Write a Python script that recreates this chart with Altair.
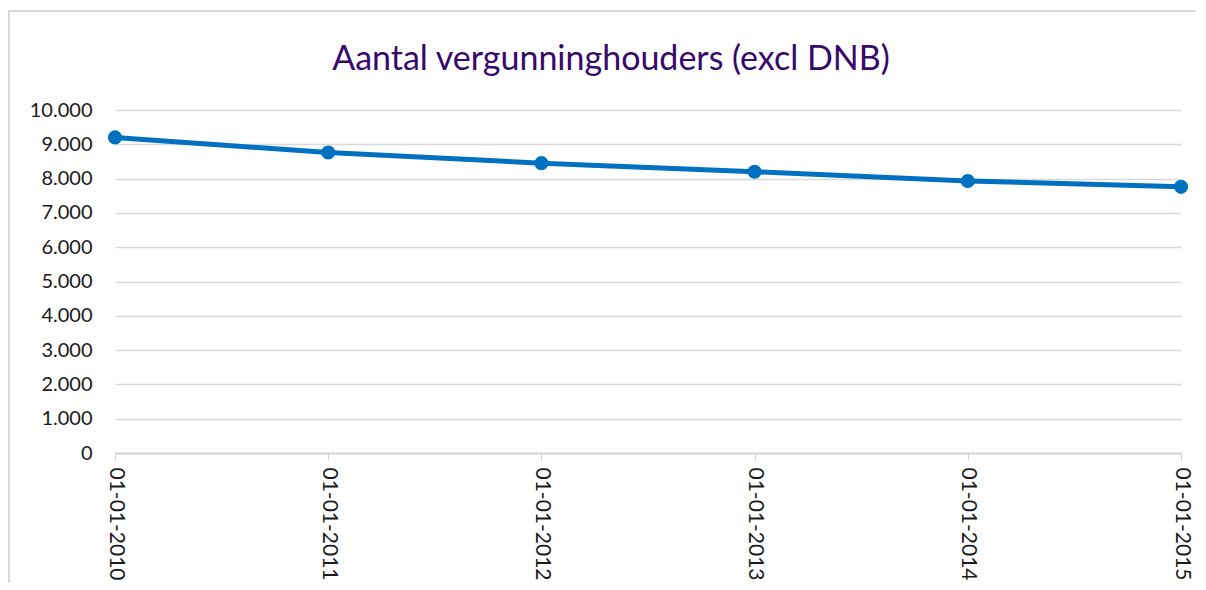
import altair as alt
import pandas as pd

dates = ["01-01-2010", "01-01-2011", "01-01-2012", "01-01-2013", "01-01-2014", "01-01-2015"]
values = [9200, 8760, 8450, 8200, 7930, 7760]

df = pd.DataFrame({"datum": dates, "aantal": values})

FONT = "Lato"

x_enc = alt.X(
    "datum:O",
    sort=dates,
    scale=alt.Scale(type="point", padding=0),
    axis=alt.Axis(
        title=None,
        labelAngle=90,
        labelAlign="left",
        labelBaseline="middle",
        labelFontSize=21,
        labelFont=FONT,
        labelColor="#1a1a1a",
        labelPadding=7,
        tickColor="#d0d0d0",
        tickSize=7,
        domainColor="#d0d0d0",
        domainWidth=1.5,
        grid=False,
    ),
)
y_enc = alt.Y(
    "aantal:Q",
    scale=alt.Scale(domain=[0, 10000]),
    axis=alt.Axis(
        title=None,
        values=list(range(0, 10001, 1000)),
        labelExpr="replace(format(datum.value, ','), ',', '.')",
        labelFontSize=20,
        labelFont=FONT,
        labelColor="#1a1a1a",
        labelPadding=23,
        ticks=False,
        domain=False,
        gridColor="#d9d9d9",
        gridWidth=1.5,
    ),
)

border = alt.Chart(df).mark_rect(
    fill=None, stroke="#d9d9d9", strokeWidth=1.5
).encode(
    x=alt.value(-106), x2=alt.value(1100), y=alt.value(-99), y2=alt.value(480)
)

line = alt.Chart(df).mark_line(color="#0070C0", strokeWidth=5).encode(x=x_enc, y=y_enc)
pts = alt.Chart(df).mark_circle(color="#0070C0", size=200, opacity=1).encode(x=x_enc, y=y_enc)

chart = alt.layer(border, line, pts).properties(
    width=1066,
    height=343,
    title=alt.TitleParams(
        "Aantal vergunninghouders (excl DNB)",
        font=FONT,
        fontSize=34,
        fontWeight="normal",
        color="#36096B",
        anchor="middle",
        offset=-67,
        dx=-37,
    ),
    autosize=alt.AutoSizeParams(type="none"),
    padding={"left": 107, "top": 102, "right": 15, "bottom": 130},
).configure_view(stroke=None)

chart.save("out.html", embed_options={"renderer": "svg", "actions": False})
